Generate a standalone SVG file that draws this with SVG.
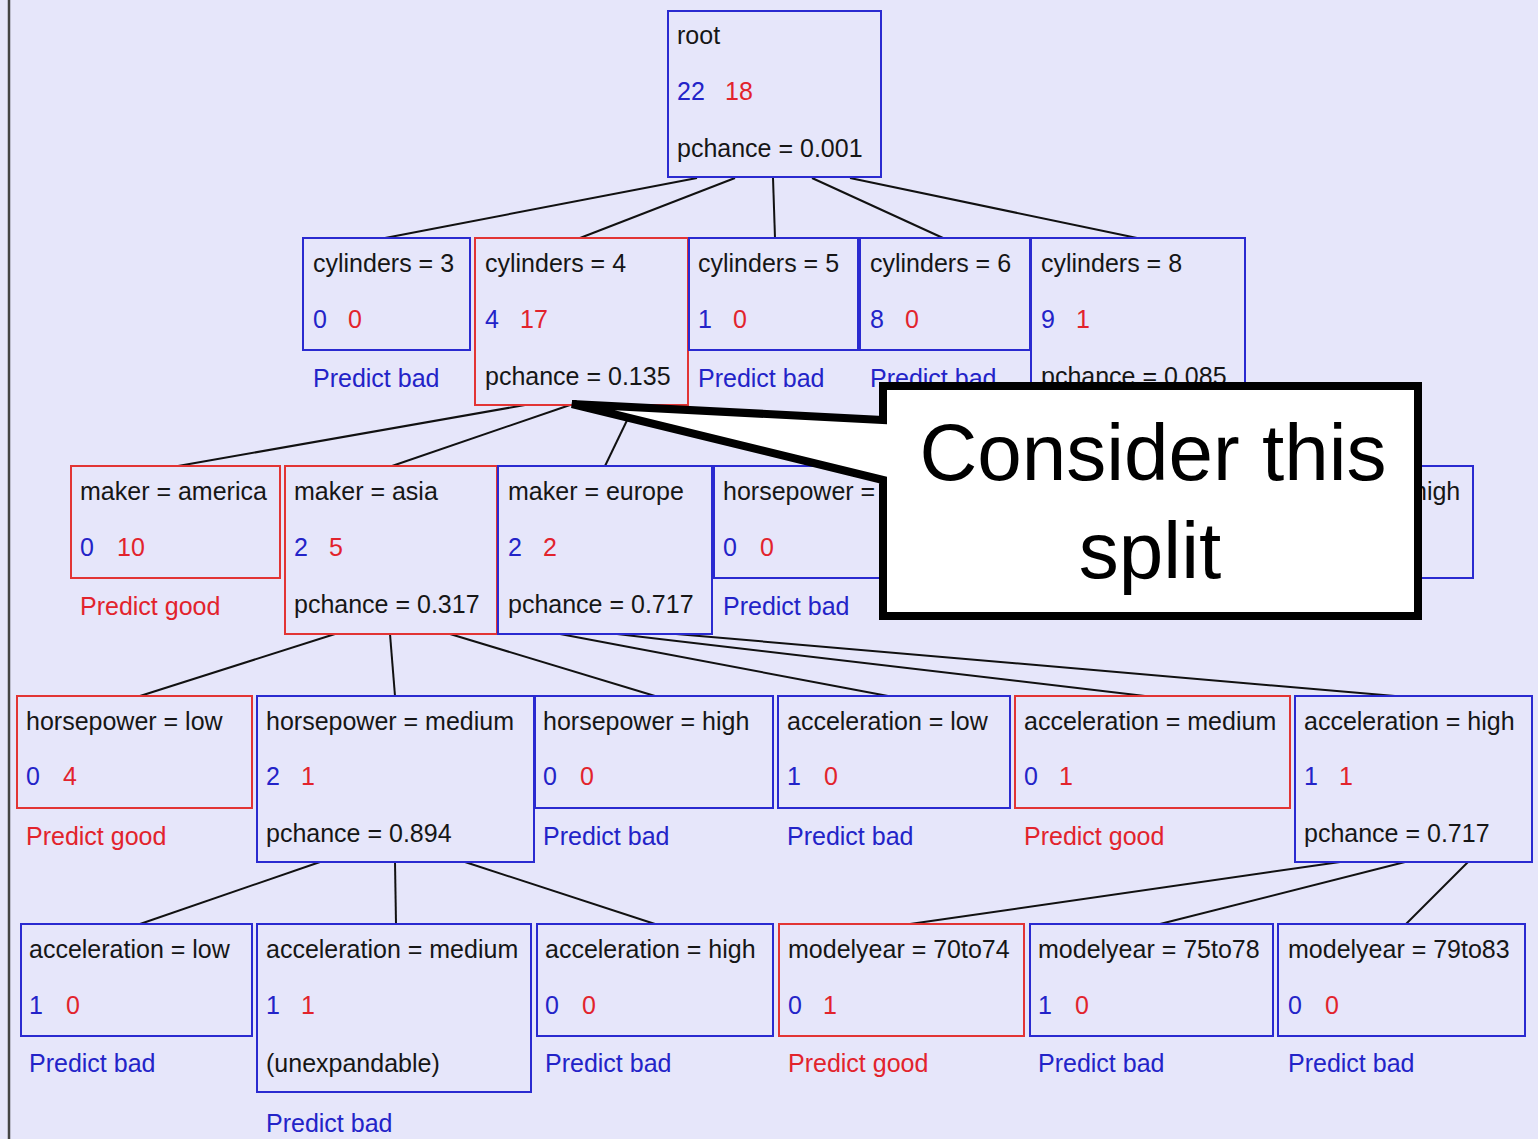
<svg xmlns="http://www.w3.org/2000/svg" width="1538" height="1139" viewBox="0 0 1538 1139">
<style>
text{font-family:"Liberation Sans",Arial,sans-serif;font-size:25px;fill:#161616}
.b{fill:#2323c8}
.r{fill:#e2232c}
.nb{fill:none;stroke:#2a2ad0;stroke-width:2}
.nr{fill:none;stroke:#e23434;stroke-width:2}
.edge line{stroke:#111;stroke-width:2}
.big{font-size:80px;fill:#000;text-anchor:middle}
</style>
<rect x="0" y="0" width="1538" height="1139" fill="#e6e6fa"/>
<line x1="9" y1="0" x2="9" y2="1139" stroke="#444" stroke-width="2.5"/>

<g id="connectors" class="edge">
<line x1="697" y1="178" x2="385" y2="238"/>
<line x1="735" y1="178" x2="580" y2="238"/>
<line x1="773" y1="178" x2="775" y2="238"/>
<line x1="812" y1="178" x2="943" y2="238"/>
<line x1="850" y1="178" x2="1137" y2="238"/>
<line x1="525" y1="405" x2="178" y2="466"/>
<line x1="570" y1="405" x2="392" y2="466"/>
<line x1="632" y1="410" x2="605" y2="466"/>
<line x1="335" y1="634" x2="140" y2="696"/>
<line x1="390" y1="634" x2="395" y2="696"/>
<line x1="450" y1="634" x2="655" y2="696"/>
<line x1="560" y1="634" x2="888" y2="696"/>
<line x1="617" y1="634" x2="1145" y2="696"/>
<line x1="676" y1="634" x2="1395" y2="696"/>
<line x1="320" y1="862" x2="140" y2="924"/>
<line x1="395" y1="862" x2="396" y2="924"/>
<line x1="465" y1="862" x2="655" y2="924"/>
<line x1="1340" y1="862" x2="910" y2="924"/>
<line x1="1405" y1="862" x2="1160" y2="924"/>
<line x1="1468" y1="862" x2="1406" y2="924"/>
</g>

<g id="root"><rect class="nb" x="668" y="11" width="213" height="166"/>
<text x="677" y="44">root</text><text class="b" x="677" y="100">22</text><text class="r" x="725" y="100">18</text><text x="677" y="157">pchance = 0.001</text></g>

<g id="cyl3"><rect class="nb" x="303" y="238" width="167" height="112"/>
<text x="313" y="272">cylinders = 3</text><text class="b" x="313" y="328">0</text><text class="r" x="348" y="328">0</text><text class="b" x="313" y="387">Predict bad</text></g>
<g id="cyl4"><rect class="nr" x="475" y="238" width="213" height="167"/>
<text x="485" y="272">cylinders = 4</text><text class="b" x="485" y="328">4</text><text class="r" x="520" y="328">17</text><text x="485" y="385">pchance = 0.135</text></g>
<g id="cyl5"><rect class="nb" x="689" y="238" width="169" height="112"/>
<text x="698" y="272">cylinders = 5</text><text class="b" x="698" y="328">1</text><text class="r" x="733" y="328">0</text><text class="b" x="698" y="387">Predict bad</text></g>
<g id="cyl6"><rect class="nb" x="860" y="238" width="170" height="112"/>
<text x="870" y="272">cylinders = 6</text><text class="b" x="870" y="328">8</text><text class="r" x="905" y="328">0</text><text class="b" x="870" y="387">Predict bad</text></g>
<g id="cyl8"><rect class="nb" x="1031" y="238" width="214" height="167"/>
<text x="1041" y="272">cylinders = 8</text><text class="b" x="1041" y="328">9</text><text class="r" x="1076" y="328">1</text><text x="1041" y="385">pchance = 0.085</text></g>

<g id="america"><rect class="nr" x="71" y="466" width="209" height="112"/>
<text x="80" y="500">maker = america</text><text class="b" x="80" y="556">0</text><text class="r" x="117" y="556">10</text><text class="r" x="80" y="615">Predict good</text></g>
<g id="asia"><rect class="nr" x="285" y="466" width="212" height="168"/>
<text x="294" y="500">maker = asia</text><text class="b" x="294" y="556">2</text><text class="r" x="329" y="556">5</text><text x="294" y="613">pchance = 0.317</text></g>
<g id="europe"><rect class="nb" x="498" y="466" width="214" height="168"/>
<text x="508" y="500">maker = europe</text><text class="b" x="508" y="556">2</text><text class="r" x="543" y="556">2</text><text x="508" y="613">pchance = 0.717</text></g>
<g id="hp8a"><rect class="nb" x="714" y="466" width="220" height="112"/>
<text x="723" y="500">horsepower =</text><text class="b" x="723" y="556">0</text><text class="r" x="760" y="556">0</text><text class="b" x="723" y="615">Predict bad</text></g>
<g id="hp8c"><rect class="nb" x="1300" y="466" width="173" height="112"/>
<text x="1413" y="500">high</text></g>

<g id="hpLow"><rect class="nr" x="17" y="696" width="235" height="112"/>
<text x="26" y="730">horsepower = low</text><text class="b" x="26" y="785">0</text><text class="r" x="63" y="785">4</text><text class="r" x="26" y="845">Predict good</text></g>
<g id="hpMed"><rect class="nb" x="257" y="696" width="277" height="166"/>
<text x="266" y="730">horsepower = medium</text><text class="b" x="266" y="785">2</text><text class="r" x="301" y="785">1</text><text x="266" y="842">pchance = 0.894</text></g>
<g id="hpHigh"><rect class="nb" x="535" y="696" width="238" height="112"/>
<text x="543" y="730">horsepower = high</text><text class="b" x="543" y="785">0</text><text class="r" x="580" y="785">0</text><text class="b" x="543" y="845">Predict bad</text></g>
<g id="accLow"><rect class="nb" x="778" y="696" width="232" height="112"/>
<text x="787" y="730">acceleration = low</text><text class="b" x="787" y="785">1</text><text class="r" x="824" y="785">0</text><text class="b" x="787" y="845">Predict bad</text></g>
<g id="accMed"><rect class="nr" x="1015" y="696" width="275" height="112"/>
<text x="1024" y="730">acceleration = medium</text><text class="b" x="1024" y="785">0</text><text class="r" x="1059" y="785">1</text><text class="r" x="1024" y="845">Predict good</text></g>
<g id="accHigh"><rect class="nb" x="1295" y="696" width="237" height="166"/>
<text x="1304" y="730">acceleration = high</text><text class="b" x="1304" y="785">1</text><text class="r" x="1339" y="785">1</text><text x="1304" y="842">pchance = 0.717</text></g>

<g id="a4Low"><rect class="nb" x="21" y="924" width="231" height="112"/>
<text x="29" y="958">acceleration = low</text><text class="b" x="29" y="1014">1</text><text class="r" x="66" y="1014">0</text><text class="b" x="29" y="1072">Predict bad</text></g>
<g id="a4Med"><rect class="nb" x="257" y="924" width="274" height="168"/>
<text x="266" y="958">acceleration = medium</text><text class="b" x="266" y="1014">1</text><text class="r" x="301" y="1014">1</text><text x="266" y="1072">(unexpandable)</text><text class="b" x="266" y="1132">Predict bad</text></g>
<g id="a4High"><rect class="nb" x="537" y="924" width="236" height="112"/>
<text x="545" y="958">acceleration = high</text><text class="b" x="545" y="1014">0</text><text class="r" x="582" y="1014">0</text><text class="b" x="545" y="1072">Predict bad</text></g>
<g id="my7074"><rect class="nr" x="779" y="924" width="245" height="112"/>
<text x="788" y="958">modelyear = 70to74</text><text class="b" x="788" y="1014">0</text><text class="r" x="823" y="1014">1</text><text class="r" x="788" y="1072">Predict good</text></g>
<g id="my7578"><rect class="nb" x="1030" y="924" width="243" height="112"/>
<text x="1038" y="958">modelyear = 75to78</text><text class="b" x="1038" y="1014">1</text><text class="r" x="1075" y="1014">0</text><text class="b" x="1038" y="1072">Predict bad</text></g>
<g id="my7983"><rect class="nb" x="1278" y="924" width="247" height="112"/>
<text x="1288" y="958">modelyear = 79to83</text><text class="b" x="1288" y="1014">0</text><text class="r" x="1325" y="1014">0</text><text class="b" x="1288" y="1072">Predict bad</text></g>

<g id="callout">
<path d="M883 386 H1418 V616 H883 V480 L572 404 L883 420 Z" fill="#fff" stroke="#000" stroke-width="8" stroke-linejoin="miter"/>
<text class="big" x="1153" y="480">Consider this</text>
<text class="big" x="1150" y="578">split</text>
</g>
</svg>
